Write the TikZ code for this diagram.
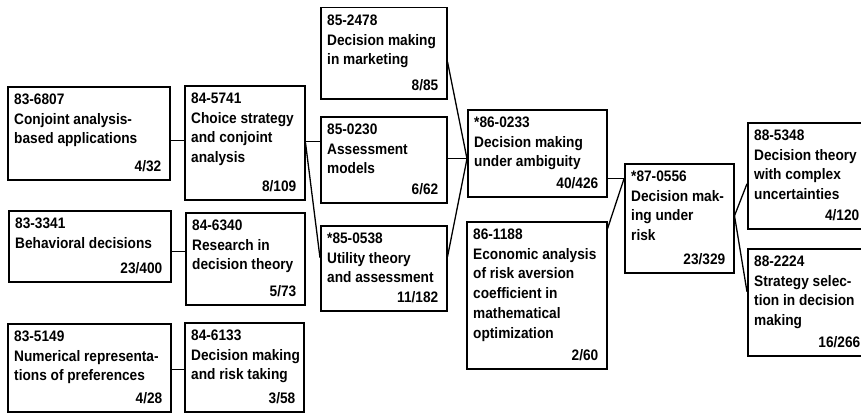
\documentclass[tikz,border=0pt]{standalone}
\usepackage{fontspec}
\setmainfont{Liberation Sans}[FakeStretch=0.9]
\tikzset{
  boxst/.style={draw, line width=1.5pt, inner sep=0pt, anchor=north west},
  txt/.style={inner sep=0pt, align=left, font=\bfseries\fontsize{15.2}{19.8}\selectfont},
  conn/.style={line width=1.3pt}
}
\newcommand\mybox[7]{%
  \node[boxst, minimum width={(#4-#2)*1pt}, minimum height={(#5-#3)*1pt}] (#1) at (#2,#3) {};
  \node[txt, anchor=north west] (#1t) at ([shift={(7,7.5)}]#1.north west) {#6};
  \node[txt, anchor=base east] (#1f) at ([shift={(-9,-9)}]#1.south east) {#7};
}
\begin{document}
\begin{tikzpicture}[x=1pt, y=-1pt]
\useasboundingbox (0,0) rectangle (861,412);
\fill[white] (0,0) rectangle (861,412);
\clip (0,0) rectangle (861,412);
\mybox{A}{7}{86}{169}{179}{83-6807\\Conjoint analysis-\\based applications}{4/32}
\mybox{B}{184}{85}{304}{199}{84-5741\\Choice strategy\\and conjoint\\analysis}{8/109}
\mybox{C}{320}{7}{446}{98}{85-2478\\Decision making\\in marketing}{8/85}
\mybox{D}{320}{116}{446}{202}{85-0230\\Assessment\\models}{6/62}
\mybox{E}{320}{225}{446}{310}{*85-0538\\Utility theory\\and assessment}{11/182}
\mybox{F}{8}{210}{170}{281}{83-3341\\Behavioral decisions}{23/400}
\mybox{G}{185}{212}{304}{304}{84-6340\\Research in\\decision theory}{5/73}
\mybox{H}{7}{323}{170}{411}{83-5149\\Numerical representa-\\tions of preferences}{4/28}
\mybox{I}{184}{322}{303}{411}{84-6133\\Decision making\\and risk taking}{3/58}
\mybox{J}{467}{109}{606}{196}{*86-0233\\Decision making\\under ambiguity}{40/426}
\mybox{K}{466}{221}{606}{368}{86-1188\\Economic analysis\\of risk aversion\\coefficient in\\mathematical\\optimization}{2/60}
\mybox{L}{624}{163}{733}{272}{*87-0556\\Decision mak-\\ing under\\risk}{23/329}
\mybox{M}{747}{122}{867}{228}{88-5348\\Decision theory\\with complex\\uncertainties}{4/120}
\mybox{N}{747}{248}{868}{355}{88-2224\\Strategy selec-\\tion in decision\\making}{16/266}
% connectors
\draw[conn] ([yshift=-7.5]A.east) -- ([yshift=2]B.west);
\draw[conn] ([yshift=-5.5]F.east) -- ([yshift=7]G.west);
\draw[conn] ([yshift=-2]H.east) -- ([yshift=-2.5]I.west);
\draw[conn] ([yshift=1]B.east) -- ([yshift=18]D.west);
\draw[conn] ([yshift=0]B.east) -- ([yshift=10.5]E.west);
\draw[conn] ([yshift=-8.5]C.east) -- ([yshift=-5.5]J.west);
\draw[conn] ([yshift=1]D.east) -- ([yshift=-5.5]J.west);
\draw[conn] ([yshift=11.5]E.east) -- ([yshift=-5.5]J.west);
\draw[conn] ([yshift=-25.5]J.east) -- ([yshift=39.5]L.west);
\draw[conn] ([yshift=66.5]K.east) -- ([yshift=39.5]L.west);
\draw[conn] ([yshift=2.5]L.east) -- ([yshift=-8]M.west);
\draw[conn] ([yshift=2.5]L.east) -- ([yshift=10.5]N.west);
\end{tikzpicture}
\end{document}
